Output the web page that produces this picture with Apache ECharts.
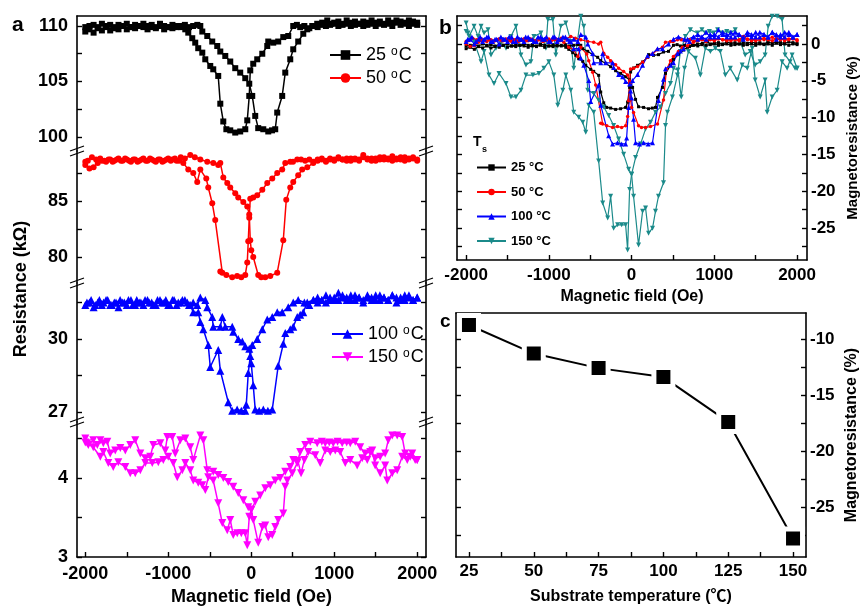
<!DOCTYPE html>
<html>
<head>
<meta charset="utf-8">
<script src="https://cdn.jsdelivr.net/npm/echarts@6/dist/echarts.min.js"></script>
<style>
  html, body { margin: 0; padding: 0; background: #fff; }
  #chart { width: 860px; height: 606px; }
</style>
</head>
<body>
<div id="chart"></div>
<script>
// ---- Resistance vs. field loops: [field (Oe), resistance (kΩ)] ----
// "Up" = field swept from -2000 to +2000 Oe, "Down" = swept back.
const r25Up = [[-2000,109.5],[-1950,109.7],[-1900,109.4],[-1850,109.8],[-1800,109.6],[-1750,109.9],[-1700,109.6],[-1650,109.8],[-1600,109.7],[-1550,110.0],[-1500,109.7],[-1450,109.9],[-1400,109.8],[-1350,110.0],[-1300,109.9],[-1250,109.7],[-1200,109.9],[-1150,109.8],[-1100,110.0],[-1050,109.7],[-1000,109.9],[-950,109.8],[-900,110.0],[-850,109.9],[-800,110.1],[-750,109.9],[-700,110.0],[-650,110.1],[-614,110.0],[-590,109.5],[-530,109.1],[-470,108.6],[-410,108.2],[-373,107.7],[-313,107.3],[-253,106.8],[-193,106.2],[-133,105.8],[-72,105.3],[-24,104.8],[12,103.7],[48,101.9],[84,100.8],[145,100.7],[205,100.5],[250,100.6],[289,100.7],[313,102.2],[373,103.7],[410,105.8],[470,107.0],[506,107.9],[566,108.6],[627,109.3],[675,109.7],[735,110.0],[795,110.2],[855,110.3],[916,110.5],[960,110.2],[1000,110.3],[1050,110.4],[1100,110.2],[1150,110.5],[1200,110.3],[1250,110.4],[1300,110.2],[1350,110.4],[1400,110.3],[1450,110.5],[1500,110.3],[1550,110.4],[1600,110.2],[1650,110.5],[1700,110.3],[1750,110.5],[1800,110.4],[1850,110.3],[1900,110.5],[1950,110.4],[2000,110.3]];
const r25Down = [[2000,110.1],[1950,110.2],[1900,110.0],[1850,110.2],[1800,110.1],[1750,110.3],[1700,110.0],[1650,110.2],[1600,110.1],[1550,110.2],[1500,110.0],[1450,110.2],[1400,110.1],[1350,110.0],[1300,110.2],[1250,110.1],[1200,110.0],[1150,110.2],[1100,110.1],[1050,110.0],[1000,110.2],[950,110.1],[900,110.0],[850,110.1],[800,109.9],[750,110.0],[700,109.8],[640,110.0],[590,109.9],[550,110.1],[506,110.0],[446,109.1],[386,109.0],[325,108.6],[265,108.5],[205,108.6],[193,108.2],[133,107.5],[72,107.0],[24,106.6],[-12,106.0],[-24,103.7],[-48,101.5],[-72,100.7],[-133,100.5],[-193,100.4],[-253,100.6],[-300,100.7],[-337,101.4],[-373,103.0],[-398,105.5],[-458,106.1],[-494,106.4],[-554,107.0],[-590,107.6],[-639,108.0],[-675,108.5],[-711,108.9],[-759,109.4],[-795,109.7],[-850,110.0],[-900,109.9],[-950,110.1],[-1000,109.9],[-1050,110.0],[-1100,110.2],[-1150,109.9],[-1200,110.1],[-1250,110.0],[-1300,110.2],[-1350,110.0],[-1400,110.1],[-1450,109.9],[-1500,110.2],[-1550,110.0],[-1600,110.1],[-1650,109.9],[-1700,110.1],[-1750,110.0],[-1800,110.2],[-1850,109.9],[-1900,110.1],[-1950,110.0],[-2000,109.9]];

const r50Up = [[-2000,88.2],[-1950,87.9],[-1900,88.0],[-1850,88.4],[-1800,88.6],[-1750,88.5],[-1700,88.7],[-1650,88.6],[-1600,88.8],[-1550,88.6],[-1500,88.7],[-1450,88.5],[-1400,88.7],[-1350,88.6],[-1300,88.8],[-1250,88.6],[-1200,88.7],[-1150,88.5],[-1100,88.7],[-1050,88.6],[-1000,88.8],[-950,88.7],[-900,88.6],[-850,88.9],[-800,88.8],[-735,89.1],[-680,88.9],[-614,88.7],[-530,88.5],[-458,88.4],[-398,88.2],[-373,88.4],[-337,87.1],[-289,86.6],[-253,86.2],[-193,85.7],[-157,85.3],[-96,84.9],[-48,84.5],[-24,83.8],[-12,81.5],[0,80.6],[24,80.0],[84,78.4],[120,78.2],[169,78.2],[229,78.3],[313,78.6],[386,81.5],[422,85.1],[470,86.2],[506,86.7],[566,87.3],[614,87.8],[675,88.0],[747,88.4],[800,88.6],[850,88.7],[900,88.5],[950,88.7],[1000,88.6],[1050,88.8],[1100,88.7],[1150,88.6],[1200,88.8],[1250,88.7],[1300,88.6],[1350,88.9],[1400,88.7],[1450,88.8],[1500,88.6],[1550,88.7],[1600,88.9],[1650,88.7],[1700,88.6],[1750,88.8],[1800,88.7],[1850,88.9],[1900,88.7],[1950,88.8],[2000,88.6]];
const r50Down = [[2000,88.7],[1950,88.9],[1900,88.8],[1850,88.6],[1800,88.9],[1750,88.7],[1700,89.0],[1650,88.8],[1600,88.7],[1550,88.9],[1500,88.8],[1450,88.6],[1400,88.8],[1350,89.1],[1300,88.7],[1250,88.8],[1200,88.6],[1150,88.8],[1100,88.7],[1050,88.9],[1000,88.7],[950,88.8],[900,88.6],[850,88.8],[800,88.7],[750,88.5],[700,88.7],[650,88.6],[600,88.7],[554,88.7],[503,88.5],[470,88.5],[410,88.4],[373,87.8],[313,87.5],[253,87.0],[193,86.6],[133,86.0],[72,85.5],[24,85.3],[-12,85.2],[-24,83.5],[-36,81.4],[-48,79.5],[-72,78.4],[-120,78.2],[-170,78.3],[-230,78.2],[-300,78.4],[-349,78.6],[-373,78.7],[-434,83.3],[-470,84.8],[-518,86.2],[-542,87.0],[-614,87.8],[-651,86.7],[-699,87.5],[-759,87.8],[-819,88.4],[-870,88.6],[-920,88.8],[-970,88.6],[-1020,88.7],[-1070,88.5],[-1120,88.7],[-1170,88.6],[-1220,88.8],[-1270,88.6],[-1320,88.7],[-1370,88.5],[-1420,88.7],[-1470,88.6],[-1520,88.8],[-1570,88.6],[-1620,88.7],[-1670,88.5],[-1720,88.7],[-1770,88.6],[-1820,88.8],[-1870,88.7],[-1920,88.9],[-1970,88.6],[-2000,88.5]];

const r100Up = [[-2000,31.4],[-1950,31.5],[-1900,31.3],[-1850,31.5],[-1800,31.4],[-1750,31.6],[-1700,31.4],[-1650,31.5],[-1600,31.3],[-1550,31.5],[-1500,31.4],[-1450,31.6],[-1400,31.4],[-1350,31.5],[-1300,31.4],[-1250,31.6],[-1200,31.5],[-1150,31.4],[-1100,31.6],[-1050,31.5],[-1000,31.4],[-950,31.6],[-900,31.4],[-850,31.5],[-800,31.6],[-750,31.4],[-700,31.5],[-650,31.4],[-614,31.7],[-554,31.6],[-530,31.3],[-470,30.9],[-458,30.5],[-373,30.5],[-349,30.9],[-313,30.5],[-229,30.5],[-217,30.3],[-157,30.0],[-108,29.9],[-72,29.7],[-24,29.6],[0,29.0],[24,28.1],[48,27.1],[96,27.05],[145,27.1],[200,27.05],[253,27.1],[325,28.9],[386,29.8],[410,30.25],[470,30.4],[506,30.5],[554,30.9],[590,31.0],[627,31.1],[675,31.5],[747,31.6],[800,31.7],[850,31.6],[900,31.8],[950,31.6],[1000,31.7],[1050,31.6],[1100,31.8],[1150,31.7],[1200,31.6],[1250,31.8],[1300,31.7],[1350,31.6],[1400,31.8],[1450,31.7],[1500,31.6],[1550,31.8],[1600,31.7],[1650,31.6],[1700,31.8],[1750,31.7],[1800,31.6],[1850,31.8],[1900,31.7],[1950,31.6],[2000,31.7]];
const r100Down = [[2000,31.7],[1950,31.6],[1900,31.8],[1850,31.6],[1800,31.7],[1750,31.5],[1700,31.8],[1650,31.6],[1600,31.7],[1550,31.6],[1500,31.8],[1450,31.6],[1400,31.7],[1350,31.5],[1300,31.7],[1250,31.6],[1200,31.8],[1150,31.6],[1100,31.7],[1050,31.9],[1000,31.6],[950,31.7],[900,31.5],[850,31.6],[800,31.5],[750,31.6],[700,31.4],[640,31.5],[566,31.6],[506,31.5],[446,31.3],[373,31.1],[313,31.1],[253,30.9],[193,30.8],[133,30.4],[72,30.0],[12,29.75],[-12,29.3],[-36,28.6],[-60,27.3],[-72,27.05],[-120,27.05],[-170,27.1],[-230,27.05],[-277,27.4],[-373,28.7],[-398,29.55],[-494,28.85],[-518,29.75],[-578,30.4],[-614,30.7],[-639,31.1],[-699,31.1],[-735,31.4],[-771,31.5],[-830,31.6],[-880,31.5],[-930,31.6],[-980,31.4],[-1030,31.6],[-1080,31.5],[-1130,31.6],[-1180,31.4],[-1230,31.5],[-1280,31.6],[-1330,31.5],[-1380,31.6],[-1430,31.4],[-1480,31.6],[-1530,31.5],[-1580,31.6],[-1630,31.5],[-1680,31.4],[-1730,31.6],[-1780,31.5],[-1830,31.6],[-1880,31.4],[-1930,31.6],[-1980,31.5]];

const r150Up = [[-2000,4.50],[-1964,4.42],[-1904,4.48],[-1855,4.42],[-1819,4.48],[-1783,4.44],[-1735,4.46],[-1699,4.31],[-1639,4.35],[-1578,4.38],[-1518,4.35],[-1458,4.42],[-1398,4.48],[-1337,4.31],[-1277,4.25],[-1217,4.27],[-1181,4.42],[-1096,4.44],[-1036,4.35],[-1012,4.52],[-952,4.52],[-916,4.31],[-855,4.48],[-795,4.50],[-735,4.39],[-699,4.23],[-614,4.54],[-578,4.48],[-530,4.10],[-458,4.08],[-398,4.04],[-337,4.00],[-277,3.95],[-217,3.89],[-157,3.81],[-96,3.72],[-36,3.63],[0,3.60],[24,3.47],[84,3.18],[133,3.38],[169,3.40],[205,3.25],[253,3.28],[289,3.38],[325,3.47],[386,3.55],[410,3.89],[434,3.97],[494,4.06],[554,4.19],[590,4.33],[651,4.42],[711,4.46],[795,4.44],[850,4.46],[892,4.44],[940,4.45],[988,4.44],[1040,4.46],[1096,4.44],[1150,4.45],[1193,4.44],[1253,4.46],[1313,4.39],[1373,4.31],[1434,4.33],[1494,4.25],[1554,4.27],[1614,4.31],[1651,4.48],[1699,4.54],[1759,4.54],[1819,4.52],[1855,4.31],[1916,4.27],[1976,4.23],[2000,4.23]];
const r150Down = [[2000,4.23],[1940,4.31],[1880,4.23],[1819,4.27],[1759,4.10],[1699,4.06],[1639,3.97],[1614,4.16],[1554,4.06],[1494,4.16],[1458,4.35],[1398,4.23],[1337,4.25],[1277,4.16],[1193,4.23],[1133,4.19],[1072,4.33],[1012,4.35],[952,4.33],[892,4.35],[831,4.19],[771,4.29],[687,4.33],[640,4.23],[600,4.06],[560,4.22],[506,4.23],[470,4.14],[410,4.08],[349,4.00],[289,3.97],[229,3.91],[169,3.87],[108,3.78],[48,3.70],[0,3.60],[-24,3.51],[-48,3.15],[-72,3.30],[-120,3.30],[-169,3.30],[-217,3.28],[-253,3.47],[-289,3.34],[-349,3.43],[-398,3.68],[-458,3.97],[-518,4.01],[-554,3.85],[-590,3.91],[-639,3.94],[-699,3.97],[-735,4.10],[-795,4.19],[-831,4.10],[-892,4.01],[-940,4.19],[-1000,4.27],[-1060,4.23],[-1120,4.20],[-1193,4.19],[-1277,4.19],[-1337,4.10],[-1398,4.06],[-1458,4.06],[-1518,4.14],[-1602,4.20],[-1663,4.14],[-1723,4.19],[-1783,4.33],[-1819,4.27],[-1904,4.39],[-1976,4.44],[-2000,4.45]];

// Substrate temperatures of the four films and their zero-MR reference resistance (kΩ)
const loopTemps = [25, 50, 100, 150];
const refResistance = [110.2, 88.2, 31.3, 4.375];

// Peak magnetoresistance vs substrate temperature
const substrateTemps = [25, 50, 75, 100, 125, 150];
const peakMR = [-8.75, -11.3, -12.6, -13.4, -17.4, -27.8];

// Tick positions / labels
const fieldLabels = [-2000, -1000, 0, 1000, 2000];
const fieldTicks = [-2000, -1500, -1000, -500, 0, 500, 1000, 1500, 2000];
const segLabels = [[100, 105, 110], [80, 85], [27, 30], [3, 4]];
const segTicks = [[100, 102.5, 105, 107.5, 110], [80, 82.5, 85, 87.5], [27, 28.5, 30, 31.5], [3, 3.5, 4, 4.5]];
const mrLabels = [-25, -20, -15, -10, -5, 0];
const mrTicks = [-27.5, -25, -22.5, -20, -17.5, -15, -12.5, -10, -7.5, -5, -2.5, 0, 2.5];
const tempLabels = [25, 50, 75, 100, 125, 150];
const tempTicks = [25, 37.5, 50, 62.5, 75, 87.5, 100, 112.5, 125, 137.5, 150];
const peakLabels = [-25, -20, -15, -10];
const peakTicks = [-27.5, -25, -22.5, -20, -17.5, -15, -12.5, -10];

// ---- layout ----
const FONT = 'Liberation Sans, Arial, Noto Sans CJK SC, sans-serif';
const segTops = [16, 151, 283, 422, 557];
const segExtent = [[98.74, 110.9], [77.68, 89.46], [26.59, 32.3], [3, 4.71]];
const fieldExtentA = [-2100, 2106];
const fieldExtentB = [-2110, 2120];
const mrExtent = [-29.35, 3.8];
const tempExtent = [20, 155];
const peakExtent = [-29.46, -7.68];
const aLeft = 77, aRight = 426;

const invTri = 'path://M0,0 L10,0 L5,9 Z';
const loopStyle = [
  { a: '25 ºC',  b: '25 °C',  color: '#000000', symbol: 'rect',     sizeA: 6, sizeB: 3 },
  { a: '50 ºC',  b: '50 °C',  color: '#ff0000', symbol: 'circle',   sizeA: 6, sizeB: 3.5 },
  { a: '100 ºC', b: '100 °C', color: '#0000ff', symbol: 'triangle', sizeA: 8, sizeB: 5 },
  { a: '150 ºC', b: '150 °C', color: '#ff00ff', symbol: invTri,     sizeA: 8, sizeB: 5, colorB: '#1b8a8a' }
];
const loops = [[r25Up, r25Down], [r50Up, r50Down], [r100Up, r100Down], [r150Up, r150Down]];

const LINE = { color: '#000', width: 1.6 };
function plain(v) { return String(v); }
function axis(extra) {
  return Object.assign({
    type: 'value',
    splitLine: { show: false },
    axisLine: { show: true, onZero: false, lineStyle: LINE }
  }, extra);
}
function ticks(values) {
  return { show: true, inside: true, length: 5, customValues: values, lineStyle: { color: '#000', width: 1.4 } };
}
function labels(values, size, margin) {
  return { show: true, customValues: values, formatter: plain, fontSize: size, fontWeight: 'bold', fontFamily: FONT, color: '#000', margin: margin };
}
function nameStyle(size) {
  return { fontSize: size, fontWeight: 'bold', fontFamily: FONT, color: '#000' };
}
const off = { show: false };

const grid = [];
for (let i = 0; i < 4; i++) {
  grid.push({ left: aLeft, top: segTops[i], width: aRight - aLeft, height: segTops[i + 1] - segTops[i], containLabel: false, outerBoundsMode: 'none' });
}
grid.push({ left: 457, top: 16, width: 350, height: 244, containLabel: false, outerBoundsMode: 'none' });
grid.push({ left: 456, top: 313, width: 350, height: 244, containLabel: false, outerBoundsMode: 'none' });

const xAxis = [
  axis({ gridIndex: 0, position: 'top', min: fieldExtentA[0], max: fieldExtentA[1], axisTick: off, axisLabel: off }),
  { type: 'value', gridIndex: 1, min: fieldExtentA[0], max: fieldExtentA[1], show: false },
  { type: 'value', gridIndex: 2, min: fieldExtentA[0], max: fieldExtentA[1], show: false },
  axis({ gridIndex: 3, position: 'bottom', min: fieldExtentA[0], max: fieldExtentA[1], axisTick: ticks(fieldTicks), axisLabel: labels(fieldLabels, 18, 8),
         name: 'Magnetic field (Oe)', nameLocation: 'middle', nameGap: 31, nameTextStyle: nameStyle(18) }),
  axis({ gridIndex: 4, position: 'bottom', min: fieldExtentB[0], max: fieldExtentB[1], axisTick: ticks(fieldTicks), axisLabel: labels(fieldLabels, 17, 7),
         name: 'Magnetic field (Oe)', nameLocation: 'middle', nameGap: 29, nameTextStyle: nameStyle(16) }),
  axis({ gridIndex: 4, position: 'top', min: fieldExtentB[0], max: fieldExtentB[1], axisTick: off, axisLabel: off }),
  axis({ gridIndex: 5, position: 'bottom', min: tempExtent[0], max: tempExtent[1], axisTick: ticks(tempTicks), axisLabel: labels(tempLabels, 17, 6),
         name: 'Substrate temperature (℃)', nameLocation: 'middle', nameGap: 32, nameTextStyle: nameStyle(16) }),
  axis({ gridIndex: 5, position: 'top', min: tempExtent[0], max: tempExtent[1], axisTick: off, axisLabel: off })
];

const yAxis = [];
for (let i = 0; i < 4; i++) {
  yAxis.push(axis({ gridIndex: i, position: 'left', min: segExtent[i][0], max: segExtent[i][1], axisTick: ticks(segTicks[i]), axisLabel: labels(segLabels[i], 18, 9) }));
  yAxis.push(axis({ gridIndex: i, position: 'right', min: segExtent[i][0], max: segExtent[i][1], axisTick: ticks(segTicks[i]), axisLabel: off }));
}
yAxis.push(axis({ gridIndex: 4, position: 'right', min: mrExtent[0], max: mrExtent[1], axisTick: ticks(mrTicks), axisLabel: labels(mrLabels, 17, 4),
                  name: 'Magnetoresistance (%)', nameLocation: 'middle', nameRotate: 90, nameGap: 38, nameTextStyle: nameStyle(15) }));
yAxis.push(axis({ gridIndex: 4, position: 'left', min: mrExtent[0], max: mrExtent[1], axisTick: ticks(mrTicks), axisLabel: off }));
yAxis.push(axis({ gridIndex: 5, position: 'right', min: peakExtent[0], max: peakExtent[1], axisTick: ticks(peakTicks), axisLabel: labels(peakLabels, 17, 4),
                  name: 'Magnetoresistance (%)', nameLocation: 'middle', nameRotate: 90, nameGap: 38, nameTextStyle: nameStyle(16) }));
yAxis.push(axis({ gridIndex: 5, position: 'left', min: peakExtent[0], max: peakExtent[1], axisTick: ticks(peakTicks), axisLabel: off }));

const series = [];
// (a) resistance loops, one broken-axis segment per film
loops.forEach(function (pair, i) {
  const st = loopStyle[i];
  pair.forEach(function (branch) {
    series.push({
      type: 'line', name: st.a, xAxisIndex: i, yAxisIndex: 2 * i, data: branch,
      symbol: st.symbol, symbolSize: st.sizeA, showAllSymbol: true,
      lineStyle: { color: st.color, width: 1.5 }, itemStyle: { color: st.color },
      emphasis: { disabled: true }, z: 3
    });
  });
});
// (b) magnetoresistance loops: MR = (R / R0 - 1) * 100
[3, 0, 1, 2].forEach(function (i) {
  const st = loopStyle[i];
  const c = st.colorB || st.color;
  loops[i].forEach(function (branch) {
    series.push({
      type: 'line', name: st.b, xAxisIndex: 4, yAxisIndex: 8,
      data: branch.map(function (p) { return [p[0], +(100 * (p[1] / refResistance[i] - 1)).toFixed(2)]; }),
      symbol: st.symbol, symbolSize: st.sizeB, showAllSymbol: true,
      lineStyle: { color: c, width: 1.2 }, itemStyle: { color: c },
      emphasis: { disabled: true }, z: 3
    });
  });
});
// (c) peak MR vs substrate temperature
series.push({
  type: 'line', name: 'peak', xAxisIndex: 6, yAxisIndex: 10,
  data: substrateTemps.map(function (t, k) { return [t, peakMR[k]]; }),
  symbol: 'rect', symbolSize: 19,
  itemStyle: { color: '#000', borderColor: '#fff', borderWidth: 5 },
  lineStyle: { color: '#000', width: 2 },
  emphasis: { disabled: true }, z: 3
});

const legendTextA = {
  fontSize: 18, fontFamily: FONT, color: '#000',
  rich: { o: { fontSize: 12, fontFamily: FONT, color: '#000', verticalAlign: 'top', padding: [0, 1, 0, 0] } }
};
function supO(n) { return n.replace('º', '{o|o}'); }
const legend = [
  { data: ['25 ºC', '50 ºC'], orient: 'vertical', left: 324, top: 41, itemWidth: 31, itemHeight: 12, itemGap: 5,
    textStyle: legendTextA, formatter: supO, selectedMode: false },
  { data: ['100 ºC', '150 ºC'], orient: 'vertical', left: 326, top: 320, itemWidth: 31, itemHeight: 12, itemGap: 5,
    textStyle: legendTextA, formatter: supO, selectedMode: false },
  { data: ['25 °C', '50 °C', '100 °C', '150 °C'], orient: 'vertical', left: 471, top: 156, itemWidth: 29, itemHeight: 8, itemGap: 11.5,
    textStyle: { fontSize: 13, fontWeight: 'bold', fontFamily: FONT, color: '#000' }, selectedMode: false }
];

// Break marks on the segmented resistance axis
const graphic = [];
[segTops[1], segTops[2], segTops[3]].forEach(function (y) {
  [aLeft, aRight].forEach(function (x) {
    [-2.5, 2.5].forEach(function (d) {
      graphic.push({ type: 'line', silent: true, z: 10,
        shape: { x1: x - 7, y1: y + d + 2.5, x2: x + 7, y2: y + d - 2.5 },
        style: { stroke: '#000', lineWidth: 1.3 } });
    });
  });
});
function label(text, x, y, size, extra) {
  return Object.assign({ type: 'text', silent: true, x: x, y: y,
    style: { text: text, fontSize: size, fontWeight: 'bold', fontFamily: FONT, fill: '#000' } }, extra || {});
}
graphic.push(label('a', 12, 15, 21));
graphic.push(label('b', 439, 18, 21));
graphic.push(label('c', 440, 312, 19));
graphic.push(label('T', 473, 135, 14));
graphic.push(label('s', 482, 145, 9));
graphic.push({ type: 'text', silent: true, x: 21, y: 289, rotation: Math.PI / 2,
  style: { text: 'Resistance (kΩ)', fontSize: 18, fontWeight: 'bold', fontFamily: FONT, fill: '#000', align: 'center', verticalAlign: 'middle' } });

const chart = echarts.init(document.getElementById('chart'), null, { renderer: 'canvas' });
chart.setOption({
  animation: false,
  backgroundColor: '#fff',
  grid: grid, xAxis: xAxis, yAxis: yAxis, series: series, legend: legend, graphic: graphic
});
</script>
</body>
</html>
